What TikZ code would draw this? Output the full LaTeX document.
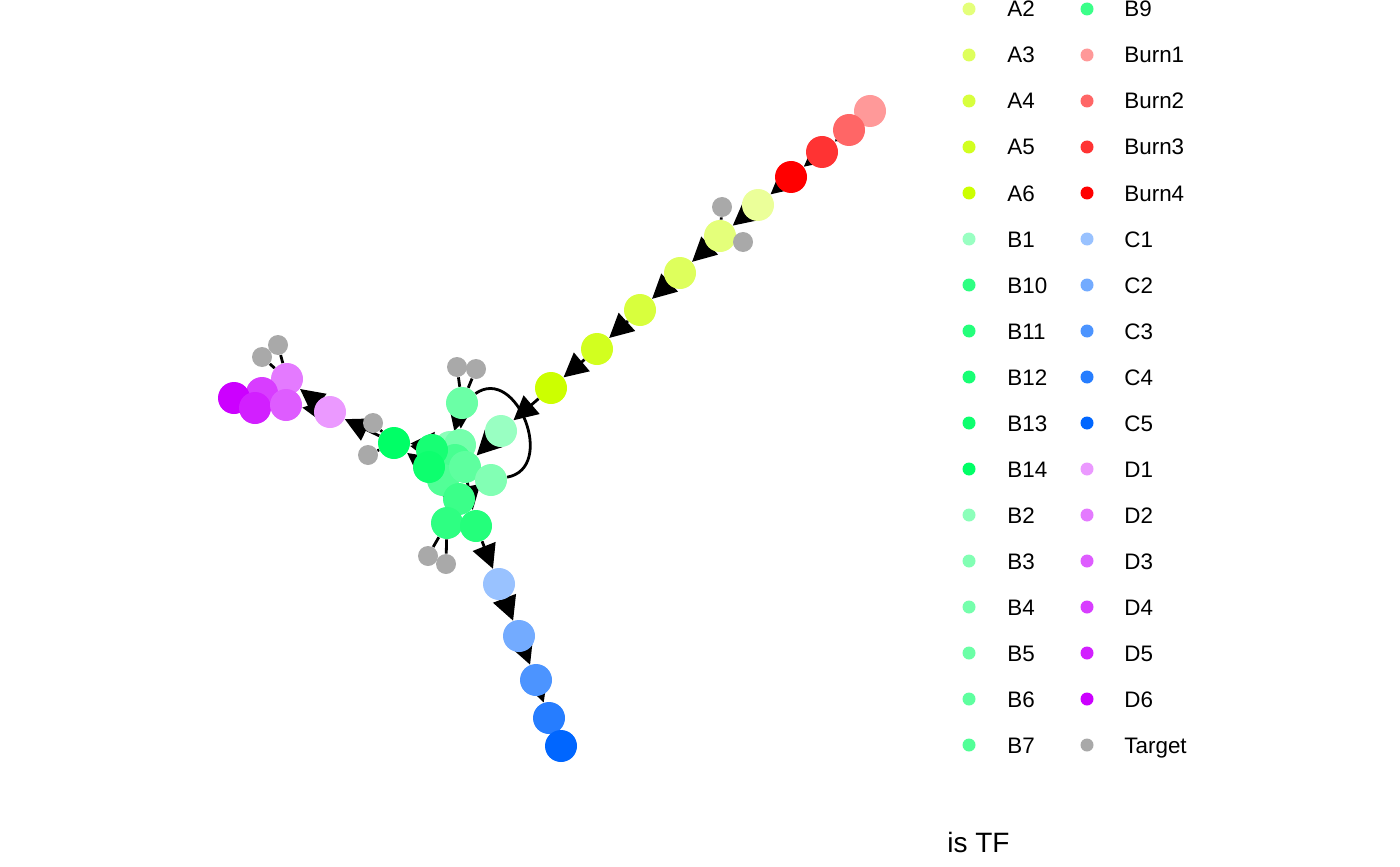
\documentclass[tikz,border=0pt]{standalone}
\usepackage{fontspec}
\setmainfont{Liberation Sans}
\usetikzlibrary{arrows.meta}
\pgfdeclarelayer{edges}
\pgfsetlayers{edges,main}

% group colours
\definecolor{baseA}{HTML}{CCFF00}
\definecolor{baseB}{HTML}{00FF66}
\definecolor{baseBurn}{HTML}{FF0000}
\definecolor{baseC}{HTML}{0066FF}
\definecolor{baseD}{HTML}{CC00FF}
\definecolor{cTarget}{HTML}{A9A9A9}
\colorlet{cA1}{baseA!40!white}
\colorlet{cA2}{baseA!52!white}
\colorlet{cA3}{baseA!64!white}
\colorlet{cA4}{baseA!76!white}
\colorlet{cA5}{baseA!88!white}
\colorlet{cA6}{baseA}
\colorlet{cB1}{baseB!40!white}
\colorlet{cB2}{baseB!45!white}
\colorlet{cB3}{baseB!49!white}
\colorlet{cB4}{baseB!54!white}
\colorlet{cB5}{baseB!58!white}
\colorlet{cB6}{baseB!63!white}
\colorlet{cB7}{baseB!68!white}
\colorlet{cB8}{baseB!72!white}
\colorlet{cB9}{baseB!77!white}
\colorlet{cB10}{baseB!82!white}
\colorlet{cB11}{baseB!86!white}
\colorlet{cB12}{baseB!91!white}
\colorlet{cB13}{baseB!95!white}
\colorlet{cB14}{baseB}
\colorlet{cBurn1}{baseBurn!40!white}
\colorlet{cBurn2}{baseBurn!60!white}
\colorlet{cBurn3}{baseBurn!80!white}
\colorlet{cBurn4}{baseBurn}
\colorlet{cC1}{baseC!40!white}
\colorlet{cC2}{baseC!55!white}
\colorlet{cC3}{baseC!70!white}
\colorlet{cC4}{baseC!85!white}
\colorlet{cC5}{baseC}
\colorlet{cD1}{baseD!40!white}
\colorlet{cD2}{baseD!52!white}
\colorlet{cD3}{baseD!64!white}
\colorlet{cD4}{baseD!76!white}
\colorlet{cD5}{baseD!88!white}
\colorlet{cD6}{baseD}

\begin{document}
\begin{tikzpicture}[x=0.5pt, y=0.5pt,
  big/.style={circle, inner sep=0pt, minimum size=16pt},
  tgt/.style={circle, inner sep=0pt, minimum size=10pt, fill=cTarget},
  flow/.style={line width=1.4pt, -{Triangle[length=12pt, width=12pt]}},
  tie/.style={line width=1.4pt},
  key/.style={circle, inner sep=0pt, minimum size=6.5pt},
  lab/.style={anchor=base west, inner sep=0pt, font=\fontsize{11.2}{13}\selectfont}]
\useasboundingbox (0,0) rectangle (1400,-866);

% Burn and A chain
\node[big, fill=cBurn1] (Burn1) at (870,-111) {};
\node[big, fill=cBurn2] (Burn2) at (849,-130) {};
\node[big, fill=cBurn3] (Burn3) at (822,-152) {};
\node[big, fill=cBurn4] (Burn4) at (791,-177) {};
\node[big, fill=cA1] (A1) at (758,-205) {};
\node[big, fill=cA2] (A2) at (720,-236) {};
\node[big, fill=cA3] (A3) at (680,-273) {};
\node[big, fill=cA4] (A4) at (640,-310) {};
\node[big, fill=cA5] (A5) at (597,-349) {};
\node[big, fill=cA6] (A6) at (551,-388) {};

% B cluster
\node[big, fill=cB2] (B2) at (450,-447) {};
\node[big, fill=cB4] (B4) at (460,-445) {};
\node[big, fill=cB8] (B8) at (455,-460) {};
\node[big, fill=cB7] (B7) at (443,-480) {};
\node[big, fill=cB6] (B6) at (465,-467) {};
\node[big, fill=cB3] (B3) at (491,-480) {};
\node[big, fill=cB1] (B1) at (501,-431) {};
\node[big, fill=cB5] (B5) at (462,-403) {};
\node[big, fill=cB12] (B12) at (432,-450) {};
\node[big, fill=cB13] (B13) at (429,-467) {};
\node[big, fill=cB9] (B9) at (459,-499) {};
\node[big, fill=cB10] (B10) at (447,-523) {};
\node[big, fill=cB11] (B11) at (476,-526) {};
\node[big, fill=cB14] (B14) at (394,-443) {};

% C chain
\node[big, fill=cC1] (C1) at (499,-584) {};
\node[big, fill=cC2] (C2) at (519,-636) {};
\node[big, fill=cC3] (C3) at (536,-680) {};
\node[big, fill=cC4] (C4) at (549,-718) {};
\node[big, fill=cC5] (C5) at (561,-746) {};

% D cluster
\node[big, fill=cD2] (D2) at (287,-379) {};
\node[big, fill=cD4] (D4) at (262,-393) {};
\node[big, fill=cD6] (D6) at (234,-398) {};
\node[big, fill=cD5] (D5) at (255,-408) {};
\node[big, fill=cD3] (D3) at (286,-405) {};
\node[big, fill=cD1] (D1) at (330,-412) {};

% targets
\node[tgt] (T1) at (722,-207) {};
\node[tgt] (T2) at (743,-242) {};
\node[tgt] (T3) at (457,-367) {};
\node[tgt] (T4) at (476,-369) {};
\node[tgt] (T5) at (373,-423) {};
\node[tgt] (T6) at (368,-455) {};
\node[tgt] (T7) at (428,-556) {};
\node[tgt] (T8) at (446,-564) {};
\node[tgt] (T9) at (262,-357) {};
\node[tgt] (T10) at (278,-345) {};

\begin{pgfonlayer}{edges}
\draw[flow] (Burn1) -- (Burn2);
\draw[flow] (Burn2) -- (Burn3);
\draw[flow] (Burn3) -- (Burn4);
\draw[flow] (Burn4) -- (A1);
\draw[flow] (A1) -- (A2);
\draw[flow] (A2) -- (A3);
\draw[flow] (A3) -- (A4);
\draw[flow] (A4) -- (A5);
\draw[flow] (A5) -- (A6);
\draw[flow] (A6) -- (B1);
\draw[flow] (B5) -- (B2);
\draw[flow] (B5) -- (B4);
\draw[flow] (B1) -- (B6);
\draw[flow] (B4) -- (B14);
\draw[flow] (B7) -- (B14);
\draw[flow] (B12) -- (B14);
\draw[flow] (B2) -- (B10);
\draw[flow] (B4) -- (B11);
\draw[tie] (B5) to[out=35, in=10, looseness=1.45] (B3);
\draw[flow] (B11) -- (C1);
\draw[flow] (C1) -- (C2);
\draw[flow] (C2) -- (C3);
\draw[flow] (C3) -- (C4);
\draw[flow] (C4) -- (C5);
\draw[flow] (B14) -- (D1);
\draw[flow] (D1) -- (D2);
\draw[flow] (D1) -- (D3);
\draw[flow] (D2) -- (D4);
\draw[flow] (D3) -- (D5);
\draw[flow] (D4) -- (D6);
% target links
\draw[tie] (T1) -- (A2);
\draw[tie] (T2) -- (A2);
\draw[tie] (T3) -- (B5);
\draw[tie] (T4) -- (B5);
\draw[tie] (T5) -- (B14);
\draw[tie] (T6) -- (B14);
\draw[tie] (T7) -- (B10);
\draw[tie] (T8) -- (B10);
\draw[tie] (T9) -- (D2);
\draw[tie] (T10) -- (D2);
\end{pgfonlayer}

% legend
\foreach \lbl [count=\i from 0] in {A2,A3,A4,A5,A6,B1,B10,B11,B12,B13,B14,B2,B3,B4,B5,B6,B7} {
  \node[key, fill=c\lbl] (key\lbl) at (969,{-9-46*\i}) {};
  \node[lab] (lab\lbl) at (1007,{-17-46*\i}) {\lbl};
}
\foreach \lbl [count=\i from 0] in {B9,Burn1,Burn2,Burn3,Burn4,C1,C2,C3,C4,C5,D1,D2,D3,D4,D5,D6,Target} {
  \node[key, fill=c\lbl] (key\lbl) at (1087,{-9-46*\i}) {};
  \node[lab] (lab\lbl) at (1124,{-17-46*\i}) {\lbl};
}
\node[anchor=base west, inner sep=0pt, font=\fontsize{14}{16}\selectfont] (title) at (947,-852) {is TF};

\end{tikzpicture}
\end{document}
